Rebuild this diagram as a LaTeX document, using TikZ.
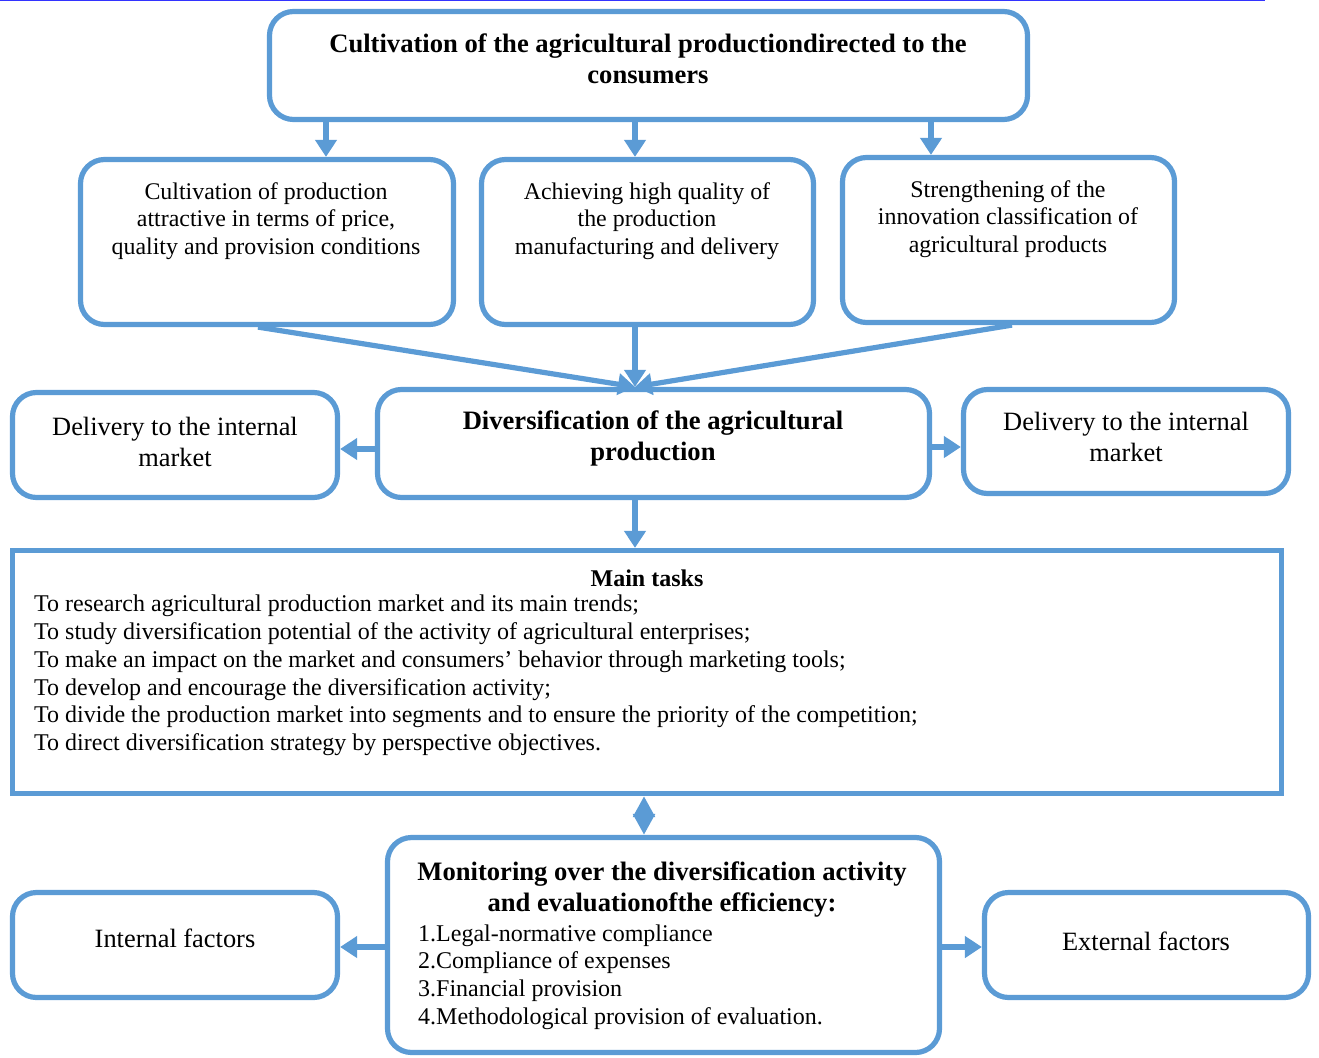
\documentclass[tikz,border=0pt]{standalone}
\usepackage{fontspec}
\setmainfont{Liberation Serif}
\usetikzlibrary{arrows.meta}
\definecolor{blu}{HTML}{5B9BD5}
\definecolor{topline}{HTML}{3333FF}
\begin{document}
\begin{tikzpicture}[x=1pt,y=-1pt,
  box/.style={draw=blu, line width=5.2pt, rounded corners=24pt, fill=white, inner sep=0pt},
  sqbox/.style={draw=blu, line width=5.2pt, fill=white, inner sep=0pt},
  arr/.style={draw=blu, line width=5.2pt, -{Triangle[length=17pt,width=21pt]}},
  dbl/.style={draw=blu, line width=5.2pt, {Triangle[length=21pt,width=21pt]}-{Triangle[length=21pt,width=21pt]}},
  txt/.style={align=center, inner sep=0pt, font=\fontsize{23.9}{27.6}\selectfont},
  btxt/.style={align=center, inner sep=0pt, font=\fontsize{26.6}{31}\selectfont\bfseries},
  dtxt/.style={align=center, inner sep=0pt, font=\fontsize{26.4}{31}\selectfont},
  ltxt/.style={align=left, inner sep=0pt, font=\fontsize{24}{27.8}\selectfont},
]
\useasboundingbox (0,0) rectangle (1319,1057);
\draw[topline, line width=2pt] (0,0) -- (1265,0);

% boxes
\node[box, minimum width=758pt, minimum height=108pt] (top) at (648.5,65.5) {};
\node[box, minimum width=373pt, minimum height=165pt] (A) at (267,242) {};
\node[box, minimum width=332pt, minimum height=165pt] (B) at (647.5,242) {};
\node[box, minimum width=332pt, minimum height=165pt] (C) at (1008.5,240) {};
\node[box, minimum width=325pt, minimum height=105pt] (L) at (175,445) {};
\node[box, minimum width=552pt, minimum height=108pt] (M) at (653.5,443.5) {};
\node[box, minimum width=325pt, minimum height=104pt] (R) at (1126,441.5) {};
\node[sqbox, minimum width=1269pt, minimum height=243pt] (T) at (647,672) {};
\node[box, minimum width=552pt, minimum height=215pt] (Mon) at (663.5,945) {};
\node[box, minimum width=325pt, minimum height=105pt] (IF) at (175,945) {};
\node[box, minimum width=324pt, minimum height=105pt] (EF) at (1146.5,945) {};

% texts
\node[btxt] (ttop) at (648,58.5) {Cultivation of the agricultural productiondirected to the\\consumers};
\node[txt] (tA) at (266,221) {Cultivation of production\\attractive in terms of price,\\quality and provision conditions};
\node[txt] (tB) at (647,221) {Achieving high quality of\\the production\\manufacturing and delivery};
\node[txt] (tC) at (1008,219) {Strengthening of the\\innovation classification of\\agricultural products};
\node[dtxt] (tL) at (175,441.5) {Delivery to the internal\\market};
\node[btxt] (tM) at (653,438.5) {Diversification of the agricultural\\production};
\node[dtxt] (tR) at (1126,437) {Delivery to the internal\\market};
\node[btxt, font=\fontsize{24}{27}\selectfont\bfseries] (tT) at (647,578) {Main tasks};
\node[ltxt, anchor=west] (tTl) at (34,675.5) {To research agricultural production market and its main trends;\\
To study diversification potential of the activity of agricultural enterprises;\\
To make an impact on the market and consumers’ behavior through marketing tools;\\
To develop and encourage the diversification activity;\\
To divide the production market into segments and to ensure the priority of the competition;\\
To direct diversification strategy by perspective objectives.};
\node[btxt] (tMon) at (662,889.5) {Monitoring over the diversification activity\\and evaluationofthe efficiency:};
\node[ltxt, anchor=west, font=\fontsize{24}{27.7}\selectfont] (tMonl) at (418,977) {1.Legal-normative compliance\\2.Compliance of expenses\\3.Financial provision\\4.Methodological provision of evaluation.};
\node[dtxt] (tIF) at (175,938) {Internal factors};
\node[dtxt] (tEF) at (1146,941) {External factors};

% connectors
\coordinate (c1) at (326,0);
\coordinate (c2) at (635,0);
\coordinate (c3) at (931,0);
\draw[arr] (top.south -| c1) -- (A.north -| c1);
\draw[arr] (top.south -| c2) -- (B.north -| c2);
\draw[arr] (top.south -| c3) -- (C.north -| c3);
\coordinate (s1) at (258,0);
\coordinate (s3) at (1012,0);
\coordinate (mt) at (M.north -| c2);
\draw[arr] (A.south -| s1) -- (mt);
\draw[arr] (C.south -| s3) -- (mt);
\draw[arr] (B.south -| c2) -- (mt);
\draw[arr] (M.south -| c2) -- (T.north -| c2);
\coordinate (y1) at (0,449);
\coordinate (y2) at (0,447);
\draw[arr] (M.west |- y1) -- (L.east |- y1);
\draw[arr] (M.east |- y2) -- (R.west |- y2);
\coordinate (d1) at (644,0);
\draw[dbl] (T.south -| d1) -- (Mon.north -| d1);
\coordinate (y3) at (0,947);
\draw[arr] (Mon.west |- y3) -- (IF.east |- y3);
\draw[arr] (Mon.east |- y3) -- (EF.west |- y3);
\end{tikzpicture}
\end{document}
